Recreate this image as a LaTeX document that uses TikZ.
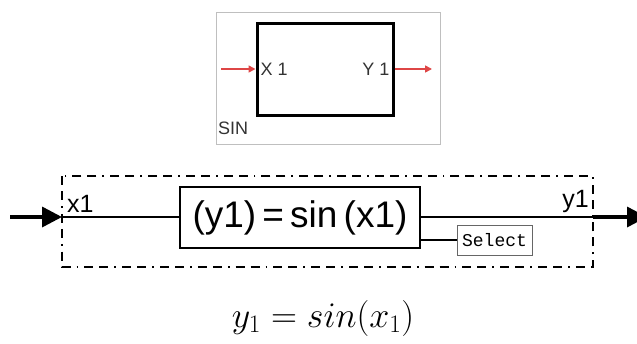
\documentclass[tikz,border=0pt]{standalone}
\usepackage{fix-cm}
\usepackage{fontspec}
\setmainfont{Liberation Sans}
\setmonofont{Liberation Mono}
\usepackage{tikz}
\usetikzlibrary{calc,positioning,arrows.meta}

\begin{document}
\begin{tikzpicture}[x=1pt,y=-1pt,
  blk/.style={draw,line width=3pt,minimum width=136pt,minimum height=92pt,inner sep=0pt},
  fnbox/.style={draw,line width=2.6pt,minimum width=240pt,minimum height=61pt,inner sep=0pt,font=\fontsize{37}{42}\selectfont},
  selbox/.style={draw,black!60,line width=0.6pt,minimum width=75pt,minimum height=30pt,inner sep=0pt,text=black,font=\ttfamily\fontsize{18}{20}\selectfont},
  redarr/.style={draw={rgb,255:red,222;green,70;blue,70},line width=1.6pt,-{Triangle[length=7pt,width=7pt]}},
  bigarr/.style={line width=3.5pt,-{Triangle[length=20pt,width=20pt]}},
  wire/.style={line width=1.3pt},
  envl/.style={line width=1.8pt,dash pattern=on 9pt off 6pt on 9pt off 6pt on 1.8pt off 6pt},
  lbl/.style={inner sep=0pt,font=\fontsize{18}{20}\selectfont,text=black!80}]
\useasboundingbox (0,0) rectangle (637,343);
% block symbol
\draw[black!25,line width=0.8pt] (216,12) rectangle (440,144);
\node[blk] (sin) at (325,69) {};
\node[lbl,anchor=west] (xlab) at ([xshift=5pt]sin.west) {X 1};
\node[lbl,anchor=east] (ylab) at ([xshift=-5pt]sin.east) {Y 1};
\node[lbl,anchor=west] (sinlab) at (218,128) {SIN};
\coordinate (xin) at (221,69);
\coordinate (yout) at (432,69);
\draw[redarr] (xin) -- (sin.west);
\draw[redarr] (sin.east) -- (yout);
% function block
\draw[envl] (62,176) rectangle (593,267);
\node[fnbox] (fn) at (300,217.5) {(y1)\,=\,sin\,(x1)};
\node[selbox] (sel) at (494.5,240) {Select};
\coordinate (in) at (10,217);
\coordinate (inb) at (62,217);
\coordinate (outb) at (593,217);
\coordinate (out) at (647,217);
\draw[bigarr] (in) -- (inb);
\draw[wire] (inb) -- (fn.west|-inb);
\draw[wire] (fn.east|-outb) -- (outb);
\draw[bigarr] (outb) -- (out);
\draw[wire] (fn.east|-sel) -- (sel.west);
\node[inner sep=0pt,anchor=south west,font=\fontsize{25}{28}\selectfont] (x1) at (67,213) {x1};
\node[inner sep=0pt,anchor=south east,font=\fontsize{25}{28}\selectfont] (y1) at (589,213) {y1};
% equation
\node[font=\fontsize{36}{42}\selectfont] (eq) at (323,318) {$y_1 = sin(x_1)$};
\end{tikzpicture}
\end{document}
